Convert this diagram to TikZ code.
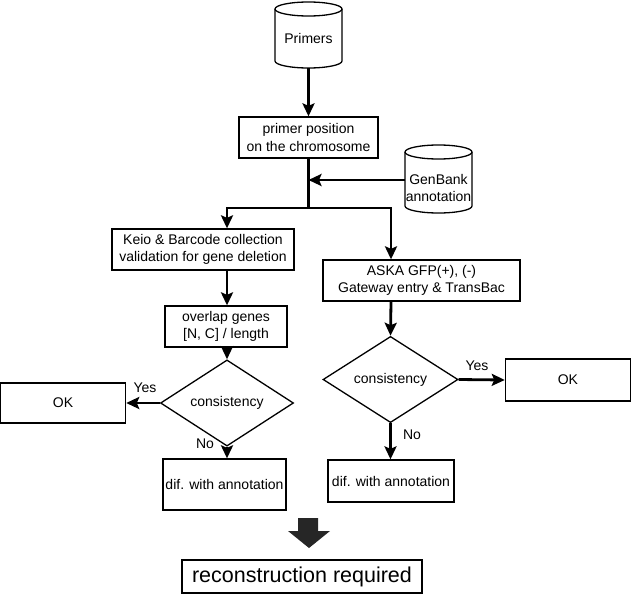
\documentclass[tikz,border=0pt]{standalone}
\usepackage{fontspec}
\setmainfont{Liberation Sans}
\usetikzlibrary{arrows.meta,shapes.geometric}
\tikzset{
  box/.style={draw, line width=1.3pt, inner sep=0pt, align=center, font=\fontsize{14}{17.5}\selectfont},
  dia/.style={draw, diamond, line width=1.3pt, inner sep=0pt, font=\fontsize{14}{17}\selectfont},
  lbl/.style={inner sep=0pt, font=\fontsize{14}{17}\selectfont},
  arr/.style={line width=2.8pt, -{Stealth[length=13pt,width=12pt,inset=2.5pt]}},
  ln/.style={line width=2.8pt},
  cyl/.style={line width=1.3pt}
}
\begin{document}
\begin{tikzpicture}[x=1pt,y=-1pt]
\useasboundingbox (0,0) rectangle (631,594);
% Primers cylinder
\draw[cyl,fill=white] (275,9) -- (275,61) arc[start angle=180,end angle=360,x radius=33.5pt,y radius=7pt] -- (342,9);
\draw[cyl] (308.5,9) ellipse[x radius=33.5pt,y radius=7pt];
\node[lbl] (primers) at (308.5,38) {Primers};
\coordinate (primbot) at (308.5,68);
% GenBank cylinder
\draw[cyl,fill=white] (405,152) -- (405,206) arc[start angle=180,end angle=360,x radius=33.5pt,y radius=7pt] -- (472,152);
\draw[cyl] (438.5,152) ellipse[x radius=33.5pt,y radius=7pt];
\node[lbl,align=center,font=\fontsize{14}{17}\selectfont] (genbank) at (438.5,188) {GenBank\\annotation};
\coordinate (genleft) at (405,180);
% boxes
\node[box, minimum width=139pt, minimum height=41pt] (pos) at (308.5,137.5) {primer position\\on the chromosome};
\node[box, minimum width=182pt, minimum height=41pt] (keio) at (203,249.5) {Keio \& Barcode collection\\validation for gene deletion};
\node[box, minimum width=197pt, minimum height=41pt] (aska) at (421.5,280.5) {ASKA GFP(+), (-)\\Gateway entry \& TransBac};
\node[box, minimum width=122pt, minimum height=41pt] (overlap) at (226,326.5) {overlap genes\\{[N, C]} / length};
\node[dia, minimum width=133pt, minimum height=66pt] (diamL) at (227,403) {consistency};
\node[box, minimum width=125pt, minimum height=40pt] (okL) at (63.1,403) {OK};
\node[box, minimum width=123pt, minimum height=51pt] (difL) at (224.5,484.5) {dif. with annotation};
\node[dia, minimum width=135pt, minimum height=67pt] (diamR) at (390.5,379.5) {consistency};
\node[box, minimum width=125pt, minimum height=42pt] (okR) at (567.9,380) {OK};
\node[box, minimum width=126pt, minimum height=42pt] (difR) at (391,481) {dif. with annotation};
\node[box, minimum width=240pt, minimum height=33pt, font=\fontsize{21.5}{24}\selectfont] (recon) at (302,576.5) {reconstruction required};
% connectors
\coordinate (j) at (308.5,208);
\coordinate (jg) at (308.5,180);
\coordinate (jl) at (227,208);
\coordinate (jr) at (391,208);
\draw[arr] (primbot) -- (pos.north);
\draw[ln] (pos.south) -- (j);
\draw[arr] (genleft) -- (jg);
\draw[arr] (j) -- (jl) -- (jl |- keio.north);
\draw[arr] (j) -- (jr) -- (jr |- aska.north);
\draw[arr] (jl |- keio.south) -- (jl |- overlap.north);
\draw[arr] (jl |- overlap.south) -- (diamL.north);
\draw[arr] (diamL.west) -- (okL.east);
\draw[arr] (diamL.south) -- (diamL.south |- difL.north);
\draw[arr] (jr |- aska.south) -- (diamR.north);
\draw[arr] (diamR.east) -- (okR.west);
\draw[arr] (diamR.south) -- (diamR.south |- difR.north);
\node[lbl] (yesL) at (145,388) {Yes};
\node[lbl] (noL) at (205,444) {No};
\node[lbl] (yesR) at (477,366) {Yes};
\node[lbl] (noR) at (412,435) {No};
% big arrow
\node[inner sep=0pt] (bigarrow) at (309,533) {};
\fill[black!85] (298,518) -- (318,518) -- (318,531) -- (330,531) -- (309,548) -- (288,531) -- (298,531) -- cycle;
\end{tikzpicture}
\end{document}
